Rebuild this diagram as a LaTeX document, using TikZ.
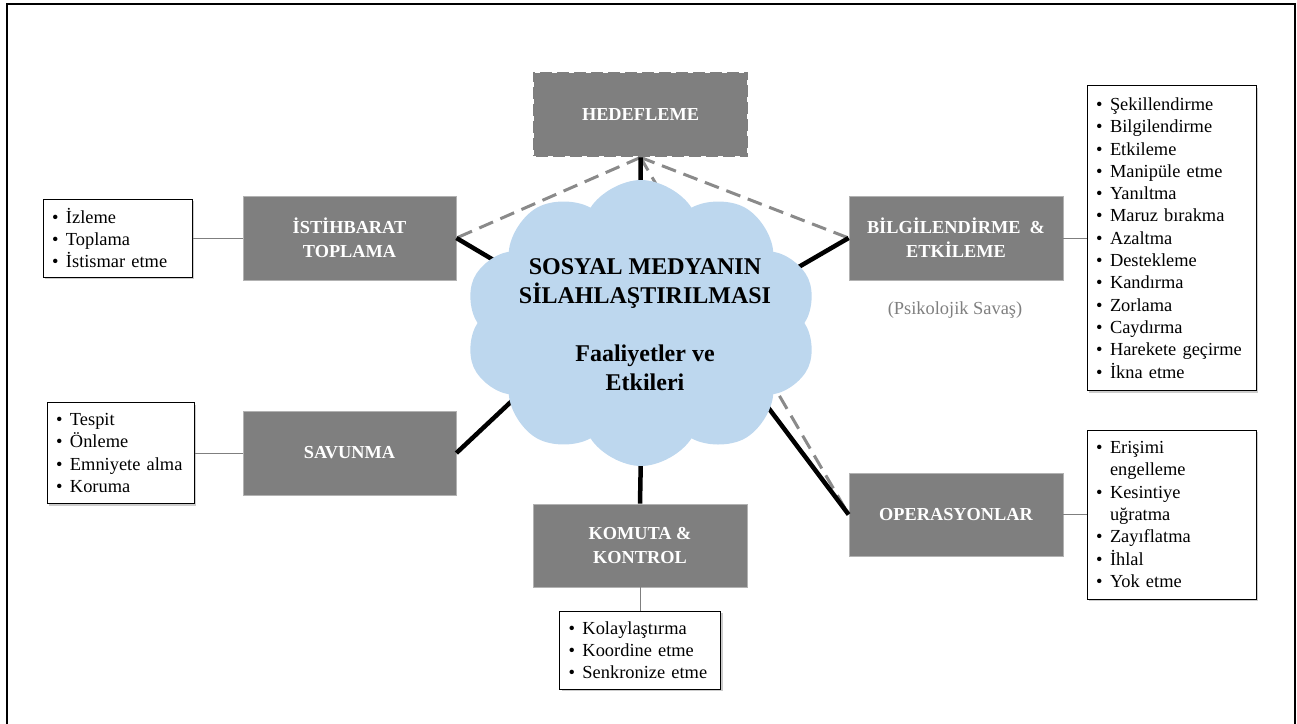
\documentclass[tikz,border=0pt]{standalone}
\usepackage{fontspec}
\setmainfont{Liberation Serif}
\usetikzlibrary{shapes.symbols,shadows}
\definecolor{boxgray}{HTML}{7F7F7F}
\definecolor{cloudblue}{HTML}{BDD7EE}
\definecolor{dashgray}{HTML}{8A8A8A}
\newcommand\bitem{\makebox[14pt][l]{\textbullet}}
\newcommand\bcont{\hspace*{14pt}}
\begin{document}
\begin{tikzpicture}[x=1pt,y=-1pt,
  gbox/.style={fill=boxgray, draw=gray!60, line width=0.8pt, text=white,
    font=\bfseries\fontsize{18.3}{24}\selectfont, align=center, inner sep=0pt},
  hbox/.style={gbox, draw=none, postaction={draw=white, line width=2.5pt, dash pattern=on 5pt off 12pt, dash phase=2pt}},
  lbox/.style={fill=white, draw=black, line width=1pt, inner xsep=9pt, inner ysep=0pt,
    align=left, font=\fontsize{18.4}{22.3}\selectfont,
    drop shadow={shadow xshift=2pt, shadow yshift=-2pt, fill=black!40}},
  thin/.style={draw=boxgray, line width=1pt},
  dline/.style={draw=dashgray, line width=3pt, dash pattern=on 15pt off 8pt},
  bline/.style={draw=black, line width=4.5pt},
  ctext/.style={font=\bfseries\fontsize{24}{29}\selectfont, align=center, text=black}
]
\useasboundingbox (0,0) rectangle (1297,723);
\draw[line width=2pt] (7,730) -- (7,3.5) -- (1295,3.5) -- (1295,730);

% main boxes
\node[hbox, minimum width=215, minimum height=85] (hed) at (640.5,114.5) {HEDEFLEME};
\node[gbox, minimum width=213, minimum height=84] (ist) at (349.5,238) {İSTİHBARAT\\TOPLAMA};
\node[gbox, minimum width=214, minimum height=84] (bil) at (956,238) {BİLGİLENDİRME\ \ \&\\ETKİLEME};
\node[gbox, minimum width=213, minimum height=84] (sav) at (349.5,453) {SAVUNMA};
\node[gbox, minimum width=214, minimum height=83] (kom) at (640,545.5) {KOMUTA \&\\KONTROL};
\node[gbox, minimum width=214, minimum height=83] (ope) at (956,514.5) {OPERASYONLAR};

% lists
\node[lbox, text width=131, minimum height=78] (l1) at (117.5,238)
  {\bitem İzleme\\\bitem Toplama\\\bitem İstismar etme};
\node[lbox, text width=151, minimum height=305] (l2) at (1171.5,238)
  {\bitem Şekillendirme\\\bitem Bilgilendirme\\\bitem Etkileme\\\bitem Manipüle etme\\\bitem Yanıltma\\\bitem Maruz bırakma\\\bitem Azaltma\\\bitem Destekleme\\\bitem Kandırma\\\bitem Zorlama\\\bitem Caydırma\\\bitem Harekete geçirme\\\bitem İkna etme};
\node[lbox, text width=129, minimum height=101] (l3) at (120.5,453)
  {\bitem Tespit\\\bitem Önleme\\\bitem Emniyete alma\\\bitem Koruma};
\node[lbox, text width=143, minimum height=78] (l4) at (640,650)
  {\bitem Kolaylaştırma\\\bitem Koordine etme\\\bitem Senkronize etme};
\node[lbox, text width=151, minimum height=169] (l5) at (1171.5,514.5)
  {\bitem Erişimi\\\bcont engelleme\\\bitem Kesintiye\\\bcont uğratma\\\bitem Zayıflatma\\\bitem İhlal\\\bitem Yok etme};

\node[font=\fontsize{18.4}{22.3}\selectfont, text=boxgray] (psy) at (955,310) {(Psikolojik Savaş)};

% thin connectors
\draw[thin] (l1.east) -- (ist.west);
\draw[thin] (l3.east) -- (sav.west);
\draw[thin] (kom.south) -- (l4.north);
\draw[thin] (bil.east) -- (l2.west);
\draw[thin] (ope.east) -- (l5.west);

% dashed connectors
\draw[dline] (hed.south) -- (ist.east);
\draw[dline] (hed.south) -- (bil.west);
\draw[dline] (hed.south) -- (ope.west);

% black connectors to cloud
\coordinate (cH) at (641,215);
\coordinate (cI) at (512,271);
\coordinate (cB) at (790,272);
\coordinate (cS) at (515,398);
\coordinate (cK) at (641,450);
\coordinate (cO) at (752,386);
\draw[bline] (hed.south) -- (cH);
\draw[bline] (ist.east) -- (cI);
\draw[bline] (bil.west) -- (cB);
\draw[bline] (sav.east) -- (cS);
\draw[bline] (kom.north) -- (cK);
\draw[bline] (ope.west) -- (cO);

% cloud
\node[cloud, cloud puffs=10, cloud puff arc=115, aspect=1.24, fill=cloudblue,
  minimum width=352, minimum height=286, inner sep=0pt] (cl) at (641,323) {};
\node[ctext] (ct) at (645,325) {SOSYAL MEDYANIN\\SİLAHLAŞTIRILMASI\\[29pt]Faaliyetler ve\\Etkileri};
\end{tikzpicture}
\end{document}
